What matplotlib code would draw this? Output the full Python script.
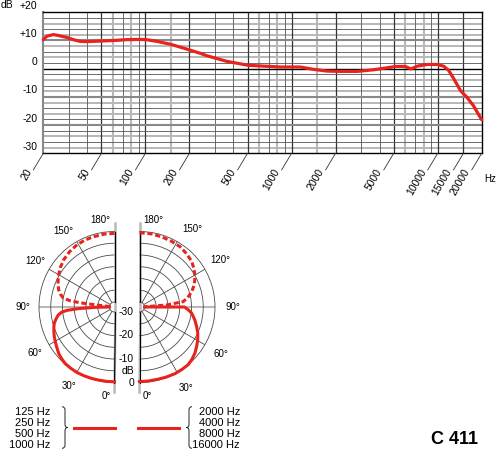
import matplotlib.pyplot as plt
import numpy as np
from matplotlib.path import Path
from matplotlib.patches import PathPatch
from matplotlib.lines import Line2D

plt.rcParams['font.family'] = ['Liberation Sans', 'DejaVu Sans']

W, H = 500, 453
RED = '#e8221c'
DARK = '#333333'
MID = '#555555'
LIGHT = '#b8b8b8'

# ------------------------------------------------------------
# frequency response (Hz, dB)
# ------------------------------------------------------------
freq = [20, 21.1, 23.4, 25.2, 28.9, 32.1, 35.6, 39.5, 48.9, 60.5, 74.6, 91.9,
        101.5, 119.6, 147.5, 182.5, 236, 263, 361, 507, 836, 1000, 1146, 1418,
        1753, 2165, 2820, 3677, 4538, 5174, 6000, 6572, 7220, 8457, 9924,
        10980, 11880, 12860, 14290, 15810, 17500, 19220, 20000]
level = [10.3, 11.5, 12.1, 11.8, 11.1, 10.3, 9.7, 9.6, 9.8, 10.0, 10.3, 10.4,
         10.3, 9.7, 8.7, 7.3, 5.5, 4.6, 2.6, 1.2, 0.6, 0.6, 0.6, -0.25,
         -0.85, -0.95, -0.95, -0.35, 0.35, 0.8, 0.8, -0.1, 0.9, 1.5, 1.5,
         0.9, -0.6, -3.5, -7.7, -10.1, -13.0, -16.6, -18.1]

tick_freqs = [20, 50, 100, 200, 500, 1000, 2000, 5000, 10000, 15000, 20000]
tick_labels = ['20', '50', '100', '200', '500', '1000', '2000', '5000',
               '10000', '15000', '20000']
db_ticks = [20, 10, 0, -10, -20, -30]
db_labels = ['+20', '+10', '0', '-10', '-20', '-30']

# ------------------------------------------------------------
# polar data (degrees, dB)
# ------------------------------------------------------------
left_solid_deg = [90, 89, 87.5, 86, 84.5, 82, 80, 78, 75, 72, 68, 64, 60,
                  57, 53, 50, 46, 41, 36, 30, 24, 18, 12, 6, 0]
left_solid_db = [-30, -24, -17, -12, -9.6, -8.0, -7.3, -6.6, -5.6, -5.0,
                 -4.3, -3.6, -3.0, -2.5, -1.8, -1.2, -0.7, -0.2, -0.1, 0.0,
                 -0.1, -0.2, -0.3, -0.3, -0.3]
left_dash_deg = [180, 172, 163, 156, 149, 141, 133, 126, 118, 112, 107, 103,
                 100, 98, 97, 96.4, 95]
left_dash_db = [-0.8, -0.8, -0.9, -1.0, -1.2, -1.8, -2.6, -3.6, -5.0, -6.2,
                -7.3, -8.6, -10.0, -13.0, -17.3, -24.5, -30]

right_solid_deg = [90, 90, 87, 83.4, 77, 71, 66, 60.7, 55, 50, 45, 40, 34,
                   28, 21, 14.6, 7, 0]
right_solid_db = [-30, -13.0, -11.5, -9.8, -8.0, -6.4, -5.0, -3.7, -2.5,
                  -1.4, -0.6, 0.0, 0.0, 0.0, -0.2, -0.4, -0.4, -0.4]
right_dash_deg = [180, 171, 162.5, 154, 146, 138, 131, 125, 118.6, 112,
                  106.3, 101, 97, 94.2, 92]
right_dash_db = [-0.5, -0.6, -0.8, -1.0, -1.2, -1.9, -2.7, -3.8, -5.2, -7.0,
                 -9.0, -11.2, -13.4, -20.5, -30]

ring_levels = [-25, -20, -15, -10, -5]
spoke_angles = [30, 60, 120, 150]
angle_labels = [0, 30, 60, 90, 120, 150, 180]
polar_db_labels = [-30, -20, -10, 0]

low_bands = ['125 Hz', '250 Hz', '500 Hz', '1000 Hz']
high_bands = ['2000 Hz', '4000 Hz', '8000 Hz', '16000 Hz']


def fx(px):
    return px / W


def fy(py):
    return 1 - py / H


fig = plt.figure(figsize=(W / 100, H / 100), dpi=100)

# ============================================================
# Frequency response chart
# ============================================================
ax = fig.add_axes([fx(43.3), fy(153.3), 438.4 / W, 141 / H])
ax.set_xscale('log')
ax.set_xlim(20, 20000)
ax.set_ylim(-30, 20)
ax.set_xticks([])
ax.set_xticks([], minor=True)
ax.set_yticks([])
ax.tick_params(which='both', length=0)

# vertical grid
for dec in [10, 100, 1000, 10000]:
    for m in [1, 1.5, 2, 3, 4, 5, 6, 7, 8, 9]:
        f = m * dec
        if f <= 20 or f >= 20000 or (dec == 10 and m == 1.5):
            continue
        if m in (1, 2, 5) or f == 15000:
            ax.axvline(f, color=DARK, lw=0.9, zorder=1)
        elif m in (1.5, 6, 8):
            ax.axvline(f, color=LIGHT, lw=1.5, zorder=0.5)
        else:
            ax.axvline(f, color=MID, lw=0.6, zorder=1)

# horizontal grid
for v in range(-28, 20, 2):
    if v == 0:
        ax.axhline(v, color='black', lw=1.0, zorder=1.2)
    elif v % 10 == 0:
        ax.axhline(v, color='#888888', lw=1.5, zorder=1.1)
    elif v % 4 == 0:
        ax.axhline(v, color=LIGHT, lw=1.4, zorder=0.5)
    else:
        ax.axhline(v, color=MID, lw=0.6, zorder=1)

for side in ['top', 'right', 'bottom']:
    ax.spines[side].set_color('black')
    ax.spines[side].set_linewidth(1.0)
ax.spines['left'].set_color('#888888')
ax.spines['left'].set_linewidth(1.5)

ax.plot(freq, level, color=RED, lw=2.3, solid_capstyle='round',
        solid_joinstyle='round', zorder=5, clip_on=False)

for f, lab in zip(tick_freqs, tick_labels):
    ax.annotate('', xy=(f, 0), xycoords=('data', 'axes fraction'),
                xytext=(-7.2, -12.0), textcoords='offset points',
                arrowprops=dict(arrowstyle='-', lw=0.6, color=DARK,
                                shrinkA=0, shrinkB=0), annotation_clip=False)
    ax.annotate(lab, xy=(f, 0), xycoords=('data', 'axes fraction'),
                xytext=(-7.0, -13.6), textcoords='offset points',
                rotation=60, rotation_mode='anchor', ha='right',
                va='bottom', fontsize=7.5, annotation_clip=False)

for v, lab in zip(db_ticks, db_labels):
    ax.annotate(lab, xy=(0, v), xycoords=('axes fraction', 'data'),
                xytext=(-4.3, 4.7), textcoords='offset points',
                ha='right', va='center', fontsize=7.5, annotation_clip=False)
fig.text(fx(0.5), fy(5), 'dB', ha='left', va='center', fontsize=7.5)
fig.text(fx(484), fy(179), 'Hz', ha='left', va='center', fontsize=7)

# ============================================================
# Polar plots
# ============================================================
R_PX = 75.5
HOLE_PX = 5.0
CY = 307
R_ORIGIN = -30 - HOLE_PX / ((R_PX - HOLE_PX) / 30)


def polar_half(cx, direction, label_r):
    # matplotlib pads a half-disc wedge to a square box, so the axes box is
    # 2R x 2R centred on the middle of the half disc
    mid = cx - R_PX / 2 if direction < 0 else cx + R_PX / 2
    axp = fig.add_axes([fx(mid - R_PX), fy(CY + R_PX), 2 * R_PX / W,
                        2 * R_PX / H], projection='polar')
    axp.set_theta_zero_location('S')
    axp.set_theta_direction(direction)
    axp.set_thetamin(0)
    axp.set_thetamax(180)
    axp.set_rorigin(R_ORIGIN)
    axp.set_rlim(-30, 0)
    axp.set_rgrids(ring_levels, labels=[''] * len(ring_levels))
    axp.set_thetagrids(spoke_angles, labels=[''] * len(spoke_angles))
    axp.grid(True, color='#4a4a4a', lw=0.6)
    axp.spines['polar'].set_color('#4a4a4a')
    axp.spines['polar'].set_linewidth(0.6)
    axp.spines['inner'].set_color('#4a4a4a')
    axp.spines['inner'].set_linewidth(0.6)
    axp.spines['start'].set_visible(False)
    axp.spines['end'].set_visible(False)
    axp.tick_params(length=0)
    axp.patch.set_alpha(0)
    # 90 degree axis and vertical axis
    axp.plot([np.pi / 2, np.pi / 2], [-30, 0], color=LIGHT, lw=1.5, zorder=1)
    axp.plot([0, 0, np.pi, np.pi], [4.0, R_ORIGIN, R_ORIGIN, 3.6],
             color=LIGHT, lw=1.8, clip_on=False, zorder=1)
    for a in angle_labels:
        if a == 0:
            t, r = 5.0, 6.0
        elif a == 180:
            t, r = 171.0, 5.4
        elif a == 150:
            t, r = 146.0, label_r
        else:
            t, r = a, label_r
        axp.text(np.deg2rad(t), r, f'{a}°', ha='center', va='center',
                 fontsize=7, clip_on=False)
    return axp


axL = polar_half(114.5, -1, 6.8)
axL.plot(np.deg2rad(left_solid_deg), left_solid_db, color=RED, lw=2.2,
         solid_joinstyle='round', clip_on=False, zorder=5)
axL.plot(np.deg2rad(left_dash_deg), left_dash_db, color=RED, lw=2.2,
         ls=(0, (1.7, 0.9)), clip_on=False, zorder=5)

axR = polar_half(139.5, 1, 7.8)
axR.plot(np.deg2rad(right_solid_deg), right_solid_db, color=RED, lw=2.2,
         solid_joinstyle='round', clip_on=False, zorder=5)
axR.plot(np.deg2rad(right_dash_deg), right_dash_db, color=RED, lw=2.2,
         ls=(0, (1.7, 0.9)), clip_on=False, zorder=5)

for v in polar_db_labels:
    axR.annotate(str(v), xy=(0, v), xytext=(-4.0, 0),
                 textcoords='offset points', ha='right', va='center',
                 fontsize=7.5, annotation_clip=False)
axR.annotate('dB', xy=(0, -5), xytext=(-4.0, 0), textcoords='offset points',
             ha='right', va='center', fontsize=7.5, annotation_clip=False)

# ============================================================
# Legend
# ============================================================
row_y = [411.7, 422.8, 433.9, 445.0]
for y, lab in zip(row_y, low_bands):
    fig.text(fx(50), fy(y), lab, ha='right', va='center', fontsize=8)
for y, lab in zip(row_y, high_bands):
    fig.text(fx(240), fy(y), lab, ha='right', va='center', fontsize=8)


def brace(x_end, x_mid, x_tip, y0, y1):
    ym = (y0 + y1) / 2
    pts = [(x_end, y0), (x_mid, y0), (x_mid, y0 + 3),
           (x_mid, ym - 3.5), (x_mid, ym), (x_tip, ym),
           (x_mid, ym), (x_mid, ym + 3.5),
           (x_mid, y1 - 3), (x_mid, y1), (x_end, y1)]
    codes = [Path.MOVETO, Path.CURVE3, Path.CURVE3,
             Path.LINETO, Path.CURVE3, Path.CURVE3,
             Path.CURVE3, Path.CURVE3,
             Path.LINETO, Path.CURVE3, Path.CURVE3]
    verts = [(fx(x), fy(y)) for x, y in pts]
    fig.add_artist(PathPatch(Path(verts, codes), transform=fig.transFigure,
                             fill=False, lw=0.7, color='#222222'))


brace(62, 65, 67.5, 406.7, 448.3)
brace(192, 189, 186.5, 406.7, 448.3)

fig.add_artist(Line2D([fx(74), fx(115)], [fy(427.7)] * 2,
                      transform=fig.transFigure, color=RED, lw=2.2))
fig.add_artist(Line2D([fx(138.3), fx(179)], [fy(427.7)] * 2,
                      transform=fig.transFigure, color=RED, lw=2.2))

fig.text(fx(478.3), fy(440), 'C 411', ha='right', va='center',
         fontsize=13, fontweight='bold')

fig.savefig('out.png', dpi=100)
